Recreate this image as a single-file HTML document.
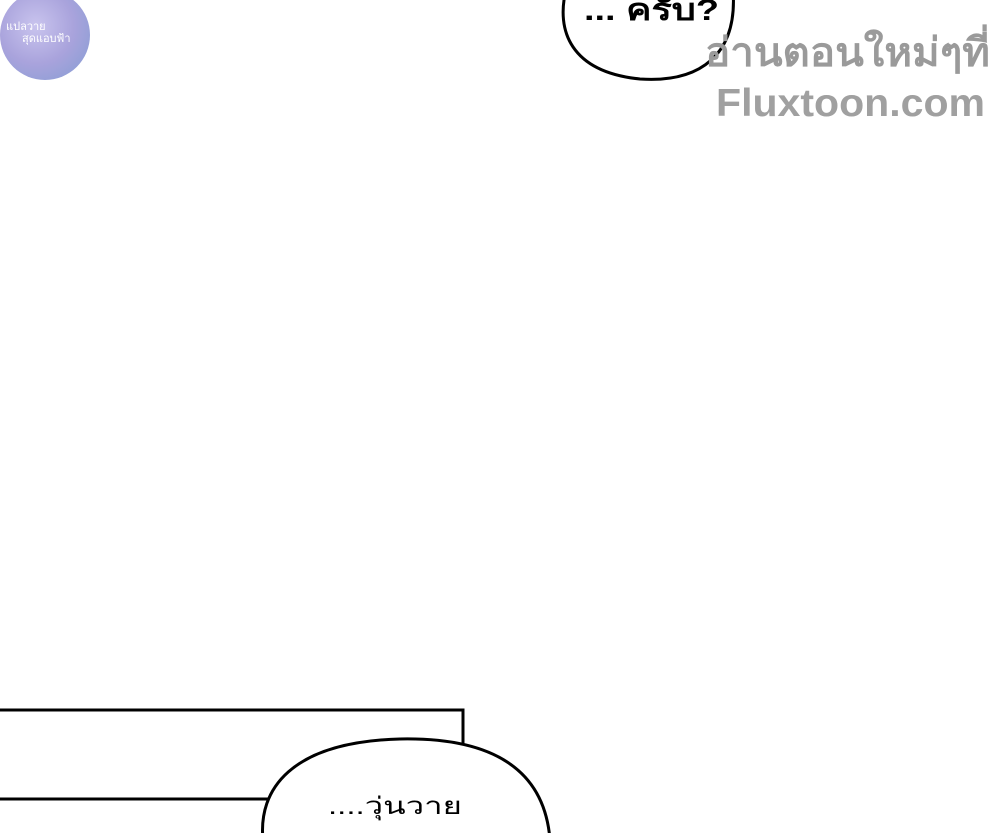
<!DOCTYPE html>
<html><head><meta charset="utf-8"><style>
html,body{margin:0;padding:0;background:#fff;width:1000px;height:833px;overflow:hidden}
svg{display:block}
</style></head><body>
<svg width="1000" height="833" viewBox="0 0 1000 833" xmlns="http://www.w3.org/2000/svg">
<defs>
<radialGradient id="g" cx="0.4" cy="0.4" r="0.7">
<stop offset="0" stop-color="#c9c4ee"/><stop offset="0.6" stop-color="#a9a3dc"/><stop offset="1" stop-color="#8f9fd6"/>
</radialGradient>
</defs>
<circle cx="45" cy="35" r="45" fill="url(#g)"/>
<text x="6" y="30" font-family="Liberation Sans, sans-serif" font-size="11" fill="#fff">แปลวาย</text>
<text x="22" y="42" font-family="Liberation Sans, sans-serif" font-size="11" fill="#fff">สุดแอบฟ้า</text>
<path d="M566,-10 C556,30 570,72 640,79 C700,83 738,55 733,-10" fill="#fff" stroke="#000" stroke-width="3"/>
<text x="584" y="20" font-family="Liberation Sans, sans-serif" font-size="30" font-weight="bold" fill="#000" textLength="135" lengthAdjust="spacingAndGlyphs">... ครับ?</text>
<text x="705" y="66" font-family="Liberation Sans, sans-serif" font-size="40" font-weight="bold" fill="#9a9a9a" textLength="285" lengthAdjust="spacingAndGlyphs">อ่านตอนใหม่ๆที่</text>
<text x="716" y="116" font-family="Liberation Sans, sans-serif" font-size="39" font-weight="bold" fill="#a0a0a0" textLength="269" lengthAdjust="spacingAndGlyphs">Fluxtoon.com</text>
<path d="M0,710 H463 V750" fill="none" stroke="#000" stroke-width="3"/>
<path d="M0,799 H270" fill="none" stroke="#000" stroke-width="3"/>
<path d="M263,840 C258,790 290,742 400,739 C500,737 545,775 550,840" fill="#fff" stroke="#000" stroke-width="3"/>
<text x="328" y="814" font-family="Liberation Sans, sans-serif" font-size="24" fill="#000" textLength="134" lengthAdjust="spacingAndGlyphs">....วุ่นวาย</text>
</svg>
</body></html>
